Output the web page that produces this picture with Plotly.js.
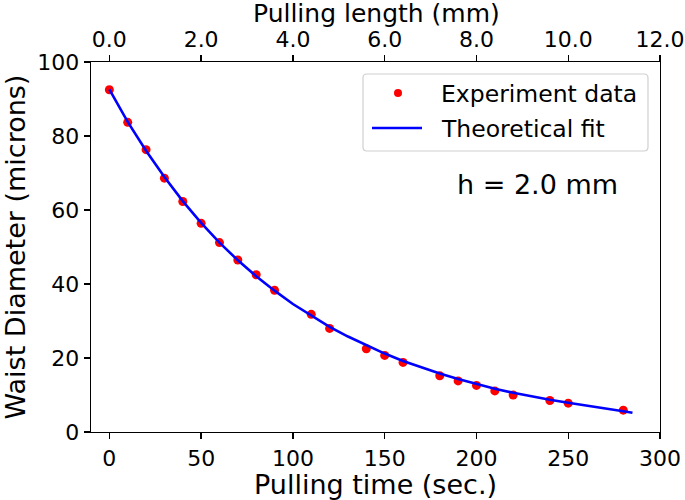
<!DOCTYPE html>
<html>
<head>
<meta charset="utf-8">
<script src="https://cdn.plot.ly/plotly-3.0.1.min.js"></script>
<style>html,body{margin:0;padding:0;background:#fff}#chart{width:685px;height:500px}</style>
</head>
<body>
<div id="chart"></div>
<script>
// Experimental data (pulling time in s, waist diameter in microns)
var expTime = [0, 10, 20, 30, 40, 50, 60, 70, 80, 90, 110, 120, 140, 150, 160, 180, 190, 200, 210, 220, 240, 250, 280];
var expDiameter = [92.5, 83.7, 76.3, 68.6, 62.3, 56.4, 51.2, 46.5, 42.5, 38.3, 31.8, 28.0, 22.5, 20.7, 18.8, 15.2, 13.8, 12.6, 11.1, 10.0, 8.5, 7.8, 5.9];

// Theoretical fit curve
var fitTime = [0, 10, 20, 30, 40, 50, 60, 70, 80, 90, 100, 110, 120, 130, 140, 150, 160, 170, 180, 190, 200, 210, 220, 230, 240, 250, 260, 270, 280, 285];
var fitDiameter = [92.6, 83.8, 76.0, 68.9, 62.4, 56.5, 51.2, 46.4, 42.1, 38.2, 34.6, 31.4, 28.4, 25.8, 23.4, 21.2, 19.2, 17.4, 15.8, 14.3, 12.9, 11.7, 10.6, 9.6, 8.7, 7.9, 7.2, 6.5, 5.6, 5.2];

// Axis ticks
var timeTicks = [0, 50, 100, 150, 200, 250, 300];
var lengthTicks = [0, 2, 4, 6, 8, 10, 12];
var lengthTickText = ["0.0", "2.0", "4.0", "6.0", "8.0", "10.0", "12.0"];
var diameterTicks = [0, 20, 40, 60, 80, 100];

// Legend labels and note
var seriesNames = ["Experiment data", "Theoretical fit"];
var noteText = "h = 2.0 mm";

var FONT = "DejaVu Sans, sans-serif";

var traces = [
  {
    x: expTime, y: expDiameter, type: "scatter", mode: "markers",
    name: seriesNames[0],
    marker: {color: "#ff0000", size: 9},
    showlegend: false
  },
  {
    x: fitTime, y: fitDiameter, type: "scatter", mode: "lines",
    name: seriesNames[1],
    line: {color: "#0000ff", width: 2.6},
    showlegend: false
  },
  // invisible trace anchoring the top axis
  {x: [lengthTicks[0], lengthTicks[lengthTicks.length - 1]], y: [null, null], xaxis: "x2", yaxis: "y",
   type: "scatter", mode: "lines", showlegend: false, hoverinfo: "skip"}
];

var axisCommon = {
  showline: true, linecolor: "#000", linewidth: 1.3,
  ticks: "outside", ticklen: 6, tickwidth: 1.3, tickcolor: "#000",
  showgrid: false, zeroline: false,
  tickfont: {family: FONT, size: 22, color: "#000"}
};

// plot area in pixels: x 91..660, y 62..432
var PL = 91, PR = 660, PT = 62, PB = 432;
function px(x) { return (x - PL) / (PR - PL); }
function py(y) { return (PB - y) / (PB - PT); }

// rounded legend box path in paper coords
function roundedRect(x0, y0, x1, y1, r) {
  var rx = r / (PR - PL), ry = r / (PB - PT);
  var X0 = px(x0), X1 = px(x1), Y0 = py(y1), Y1 = py(y0);
  return "M" + (X0 + rx) + "," + Y0 + " L" + (X1 - rx) + "," + Y0 +
    " Q" + X1 + "," + Y0 + " " + X1 + "," + (Y0 + ry) +
    " L" + X1 + "," + (Y1 - ry) + " Q" + X1 + "," + Y1 + " " + (X1 - rx) + "," + Y1 +
    " L" + (X0 + rx) + "," + Y1 + " Q" + X0 + "," + Y1 + " " + X0 + "," + (Y1 - ry) +
    " L" + X0 + "," + (Y0 + ry) + " Q" + X0 + "," + Y0 + " " + (X0 + rx) + "," + Y0 + " Z";
}

var shapes = [
  {type: "path", xref: "paper", yref: "paper", path: roundedRect(363, 74, 648, 151, 4),
   line: {color: "#d0d0d0", width: 1.2}, fillcolor: "rgba(255,255,255,0.8)", layer: "above"},
  {type: "circle", xref: "paper", yref: "paper",
   x0: px(398 - 4), x1: px(398 + 4), y0: py(93 + 4), y1: py(93 - 4),
   fillcolor: "#ff0000", line: {width: 0}, layer: "above"},
  {type: "line", xref: "paper", yref: "paper",
   x0: px(372), x1: px(422), y0: py(128), y1: py(128),
   line: {color: "#0000ff", width: 2.6}, layer: "above"}
];

var layout = {
  width: 685, height: 500,
  margin: {l: PL, r: 685 - PR, t: PT, b: 500 - PB},
  paper_bgcolor: "#fff", plot_bgcolor: "#fff",
  font: {family: FONT, color: "#000"},
  showlegend: false,
  xaxis: Object.assign({}, axisCommon, {
    range: [-10, 300], tickvals: timeTicks,
    title: {text: "Pulling time (sec.)", font: {family: FONT, size: 27, color: "#000"}, standoff: 4}
  }),
  xaxis2: Object.assign({}, axisCommon, {
    overlaying: "x", side: "top", anchor: "y",
    range: [-0.4, 12], tickvals: lengthTicks, ticktext: lengthTickText,
    ticklabelstandoff: -1
  }),
  yaxis: Object.assign({}, axisCommon, {
    range: [0, 100], tickvals: diameterTicks, mirror: true,
    title: {text: "Waist Diameter (microns)", font: {family: FONT, size: 27, color: "#000"}, standoff: 6}
  }),
  shapes: shapes,
  annotations: [
    {text: "Pulling length (mm)", xref: "paper", yref: "paper", x: px(376), y: 1,
     xanchor: "center", yanchor: "middle", yshift: 49, showarrow: false, borderpad: 0,
     font: {family: FONT, size: 25, color: "#000"}},
    {text: seriesNames[0], xref: "paper", yref: "paper", x: px(439), y: py(94),
     xanchor: "left", yanchor: "middle", showarrow: false,
     font: {family: FONT, size: 23.5, color: "#000"}},
    {text: seriesNames[1], xref: "paper", yref: "paper", x: px(439), y: py(129),
     xanchor: "left", yanchor: "middle", showarrow: false,
     font: {family: FONT, size: 23.5, color: "#000"}},
    {text: noteText, xref: "paper", yref: "paper", x: px(620), y: py(184),
     xanchor: "right", yanchor: "middle", showarrow: false,
     font: {family: FONT, size: 27, color: "#000"}}
  ]
};

Plotly.newPlot("chart", traces, layout, {displayModeBar: false, staticPlot: true});
</script>
</body>
</html>
